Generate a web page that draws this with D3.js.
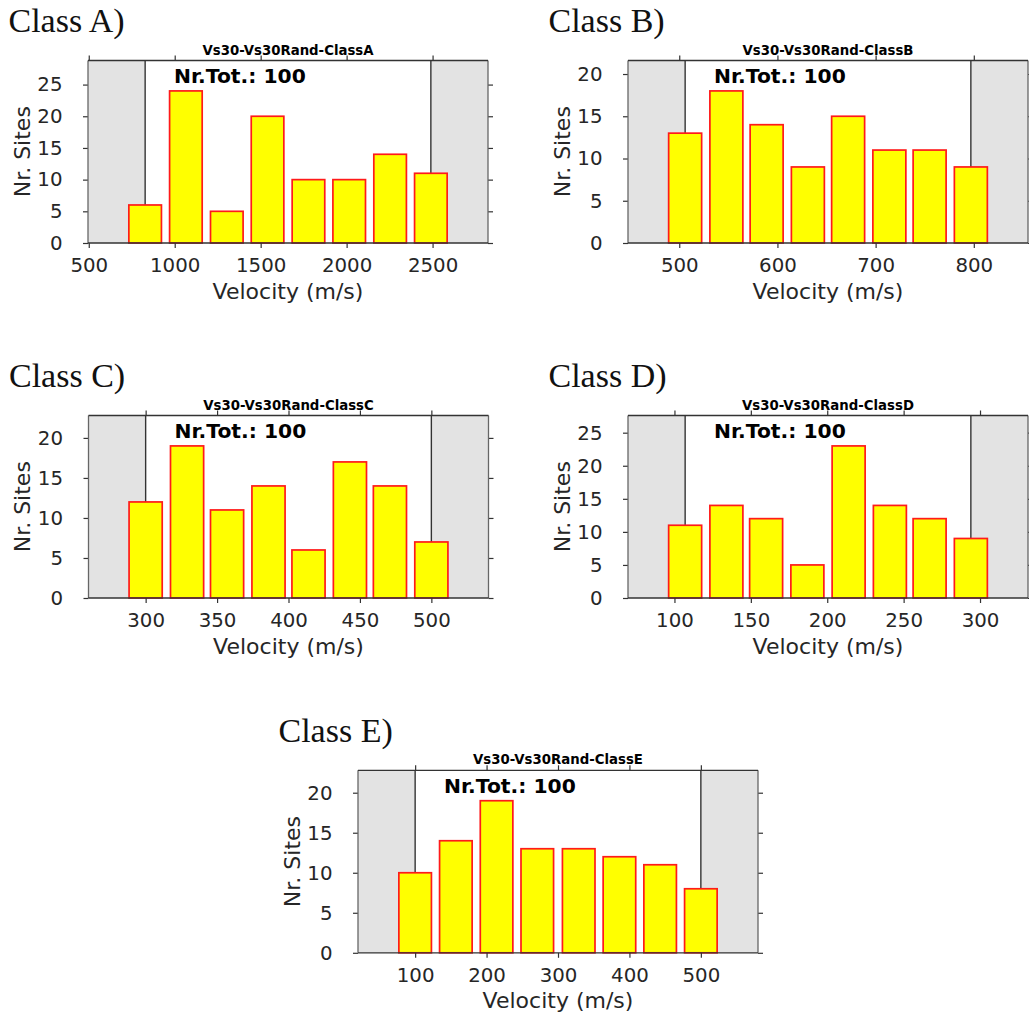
<!DOCTYPE html>
<html>
<head>
<meta charset="utf-8">
<script src="https://cdn.jsdelivr.net/npm/d3@7"></script>
<style>
  body { margin: 0; background: #fff; }
  svg { display: block; }
  .tick text { font-family: "DejaVu Sans", sans-serif; font-size: 19.8px; fill: #262626; }
  .tick line { stroke: #333; stroke-width: 1.2; }
</style>
</head>
<body>
<svg id="fig" width="1029" height="1017"></svg>
<script>
// class names and histogram counts (8 bins each, 100 sites per class)
var classNames = ["A", "B", "C", "D", "E"];
var countsA = [6, 24, 5, 20, 10, 10, 14, 11];
var countsB = [13, 18, 14, 9, 15, 11, 11, 9];
var countsC = [12, 19, 11, 14, 6, 17, 14, 7];
var countsD = [11, 14, 12, 5, 23, 14, 12, 9];
var countsE = [10, 14, 19, 13, 13, 12, 11, 8];

// bin centres (m/s), first and last are the drawn limit lines
var centersA = [828, 1065, 1303, 1540, 1778, 2015, 2253, 2490];
var centersB = [506, 548, 589, 631, 672, 714, 755, 797];
var centersC = [300, 329, 357, 386, 414, 443, 471, 500];
var centersD = [107, 134, 160, 187, 214, 241, 267, 294];
var centersE = [100, 157, 214, 271, 329, 386, 443, 500];

// tick labels
var xTicksA = [500, 1000, 1500, 2000, 2500];
var xTicksB = [500, 600, 700, 800];
var xTicksC = [300, 350, 400, 450, 500];
var xTicksD = [100, 150, 200, 250, 300];
var xTicksE = [100, 200, 300, 400, 500];
var yTicksA = [0, 5, 10, 15, 20, 25];
var yTicksB = [0, 5, 10, 15, 20];
var yTicksC = [0, 5, 10, 15, 20];
var yTicksD = [0, 5, 10, 15, 20, 25];
var yTicksE = [0, 5, 10, 15, 20];

var totals = [100, 100, 100, 100, 100];

var counts = [countsA, countsB, countsC, countsD, countsE];
var centers = [centersA, centersB, centersC, centersD, centersE];
var xTicks = [xTicksA, xTicksB, xTicksC, xTicksD, xTicksE];
var yTicks = [yTicksA, yTicksB, yTicksC, yTicksD, yTicksE];

// panel placement (plot area top-left corners)
var origins = [[88, 60.5], [628, 60.5], [88.5, 415.5], [628, 415.5], [358, 770.3]];
var width = 400, height = 182.5;

var svg = d3.select("#fig");

classNames.forEach(function (name, k) {
  var c = centers[k], n = counts[k];
  var lo = c[0], hi = c[c.length - 1];
  var pad = 0.2 * (hi - lo);

  var x = d3.scaleLinear().domain([lo - pad, hi + pad]).range([0, width]);
  var y = d3.scaleLinear().domain([0, 1.2 * d3.max(n)]).range([height, 0]);

  var g = svg.append("g")
    .attr("transform", "translate(" + origins[k][0] + "," + origins[k][1] + ")");

  // shaded zones outside the class limits
  g.append("rect").attr("x", 0).attr("y", 0)
    .attr("width", x(lo)).attr("height", height)
    .attr("fill", "#e3e3e3");
  g.append("rect").attr("x", x(hi)).attr("y", 0)
    .attr("width", width - x(hi)).attr("height", height)
    .attr("fill", "#e3e3e3");

  // limit lines
  [lo, hi].forEach(function (v) {
    g.append("line")
      .attr("x1", x(v)).attr("x2", x(v))
      .attr("y1", 0).attr("y2", height)
      .attr("stroke", "#333").attr("stroke-width", 1.4);
  });

  // bars
  var bw = 0.8 * (x(c[1]) - x(c[0]));
  g.selectAll("rect.bar")
    .data(n)
    .enter().append("rect")
      .attr("class", "bar")
      .attr("x", function (d, i) { return x(c[i]) - bw / 2; })
      .attr("y", function (d) { return y(d); })
      .attr("width", bw)
      .attr("height", function (d) { return height - y(d); })
      .attr("fill", "#ffff00")
      .attr("stroke", "#ff1a1a")
      .attr("stroke-width", 1.7);

  // axes
  g.append("g").attr("transform", "translate(0," + height + ")")
    .call(d3.axisBottom(x).tickValues(xTicks[k]).tickSize(5).tickPadding(10).tickFormat(d3.format("d")))
    .call(function (a) { a.select(".domain").remove(); });
  g.append("g")
    .call(d3.axisTop(x).tickValues(xTicks[k]).tickSize(5).tickFormat(""))
    .call(function (a) { a.select(".domain").remove(); });
  g.append("g")
    .call(d3.axisLeft(y).tickValues(yTicks[k]).tickSize(5).tickPadding(20.5))
    .call(function (a) { a.select(".domain").remove(); });
  g.append("g").attr("transform", "translate(" + width + ",0)")
    .call(d3.axisRight(y).tickValues(yTicks[k]).tickSize(5).tickFormat(""))
    .call(function (a) { a.select(".domain").remove(); });

  // frame
  g.append("line").attr("x1", 0).attr("x2", 0).attr("y1", 0).attr("y2", height)
    .attr("stroke", "#666").attr("stroke-width", 1.3);
  g.append("line").attr("x1", width).attr("x2", width).attr("y1", 0).attr("y2", height)
    .attr("stroke", "#666").attr("stroke-width", 1.3);
  g.append("line").attr("x1", 0).attr("x2", width).attr("y1", 0).attr("y2", 0)
    .attr("stroke", "#333").attr("stroke-width", 1.3);
  g.append("line").attr("x1", 0).attr("x2", width).attr("y1", height).attr("y2", height)
    .attr("stroke", "#333").attr("stroke-width", 1.3);

  // texts
  g.append("text")
    .attr("x", width / 2).attr("y", -6)
    .attr("text-anchor", "middle")
    .style("font-family", "DejaVu Sans, sans-serif")
    .style("font-weight", "bold").style("font-size", "13.3px")
    .text("Vs30-Vs30Rand-Class" + name);

  g.append("text")
    .attr("x", 86).attr("y", 22.5)
    .style("font-family", "DejaVu Sans, sans-serif")
    .style("font-weight", "bold").style("font-size", "20.3px")
    .text("Nr.Tot.: " + totals[k]);

  g.append("text")
    .attr("x", width / 2).attr("y", height + 55.5)
    .attr("text-anchor", "middle")
    .style("font-family", "DejaVu Sans, sans-serif")
    .style("font-size", "22px").style("fill", "#262626")
    .text("Velocity (m/s)");

  g.append("text")
    .attr("transform", "translate(-58.5," + (height / 2) + ") rotate(-90)")
    .attr("text-anchor", "middle")
    .style("font-family", "DejaVu Sans, sans-serif")
    .style("font-size", "22px").style("fill", "#262626")
    .text("Nr. Sites");

  g.append("text")
    .attr("x", -79.5).attr("y", -28.5)
    .style("font-family", "Liberation Serif, serif")
    .style("font-size", "34px").style("fill", "#111")
    .text("Class " + name + ")");
});
</script>
</body>
</html>
